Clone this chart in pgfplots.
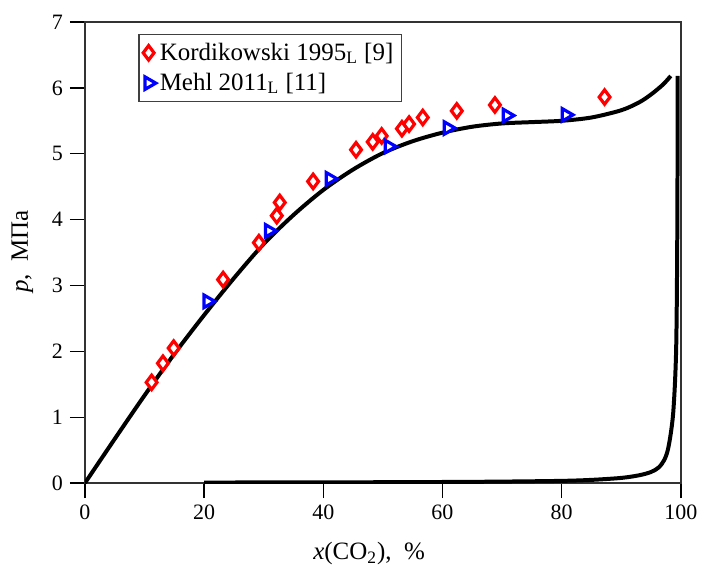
\documentclass[border=0pt]{standalone}
\usepackage{fontspec}
\setmainfont{Liberation Serif}
\usepackage{pgfplots}
\pgfplotsset{compat=1.18}
\pgfplotstableread{
x y
11.2 1.53
13.1 1.82
14.9 2.05
23.2 3.09
29.2 3.65
32.2 4.06
32.7 4.26
38.3 4.58
45.5 5.06
48.3 5.18
49.8 5.27
53.2 5.38
54.4 5.45
56.7 5.55
62.4 5.65
68.8 5.74
87.2 5.86
}\kord
\pgfplotstableread{
x y
20.6 2.76
30.9 3.83
41.1 4.62
51.0 5.11
60.9 5.39
70.8 5.58
80.7 5.59
}\mehl
\pgfplotstableread{
x y
0 0
5 0.67
10 1.33
15 1.96
20 2.55
25 3.11
30 3.63
35 4.07
40 4.45
45 4.76
50 5.01
55 5.19
60 5.32
65 5.41
70 5.46
75 5.48
80 5.50
85 5.55
90 5.66
93 5.78
95 5.90
97 6.05
98.3 6.18
}\dew
\pgfplotstableread{
x y
20 0.01
40 0.012
60 0.018
70 0.024
80 0.035
85 0.05
90 0.08
93 0.12
95 0.17
96.3 0.24
97.2 0.35
97.8 0.50
98.3 0.75
98.7 1.05
99.0 1.50
99.2 2.00
99.3 2.60
99.38 3.50
99.43 4.50
99.47 6.18
}\bubble
\begin{document}
\begin{tikzpicture}
\begin{axis}[
  scale only axis, width=298.5pt, height=231pt,
  xmin=0, xmax=100, ymin=0, ymax=7,
  xtick={0,20,...,100}, ytick={0,1,...,7},
  tick align=outside, xtick pos=bottom, ytick pos=left,
  major tick length=7.5pt,
  tick style={line width=0.75pt, black},
  axis line style={line width=0.75pt, black!80},
  ticklabel style={font=\fontsize{11}{13}\selectfont},
  /pgf/number format/assume math mode=true,
  xlabel={\textit{x}(CO\textsubscript{2}),\ \ \%},
  ylabel={\textit{p},\ \ МПа},
  label style={font=\fontsize{12.5}{15}\selectfont},
  xlabel style={at={(rel axis cs:0.477,-0.166)}, anchor=base},
  ylabel style={at={(rel axis cs:-0.105,0.502)}, anchor=center},
  legend style={at={(rel axis cs:0.09,0.974)}, anchor=north west,
    draw=black!75, line width=0.75pt, font=\fontsize{12.5}{15}\selectfont,
    inner sep=2pt, row sep=1pt},
  legend cell align=left,
]
\addplot[only marks, mark=diamond*, mark size=3.6pt, mark options={draw=red, fill=white, line width=1.6pt}] table {\kord};
\addlegendentry{Kordikowski 1995\textsubscript{L} [9]}
\addplot[only marks, mark=triangle*, mark size=3.6pt, mark options={draw=blue, fill=white, line width=1.6pt, rotate=-90}] table {\mehl};
\addlegendentry{Mehl 2011\textsubscript{L} [11]}
\addplot[black, line width=2pt, smooth, forget plot] table {\dew};
\addplot[black, line width=2pt, smooth, forget plot] table {\bubble};
\end{axis}
\path[use as bounding box] ([xshift=-42.5pt,yshift=-42pt]current axis.south west) rectangle ([xshift=11pt,yshift=11pt]current axis.north east);
\end{tikzpicture}
\end{document}
